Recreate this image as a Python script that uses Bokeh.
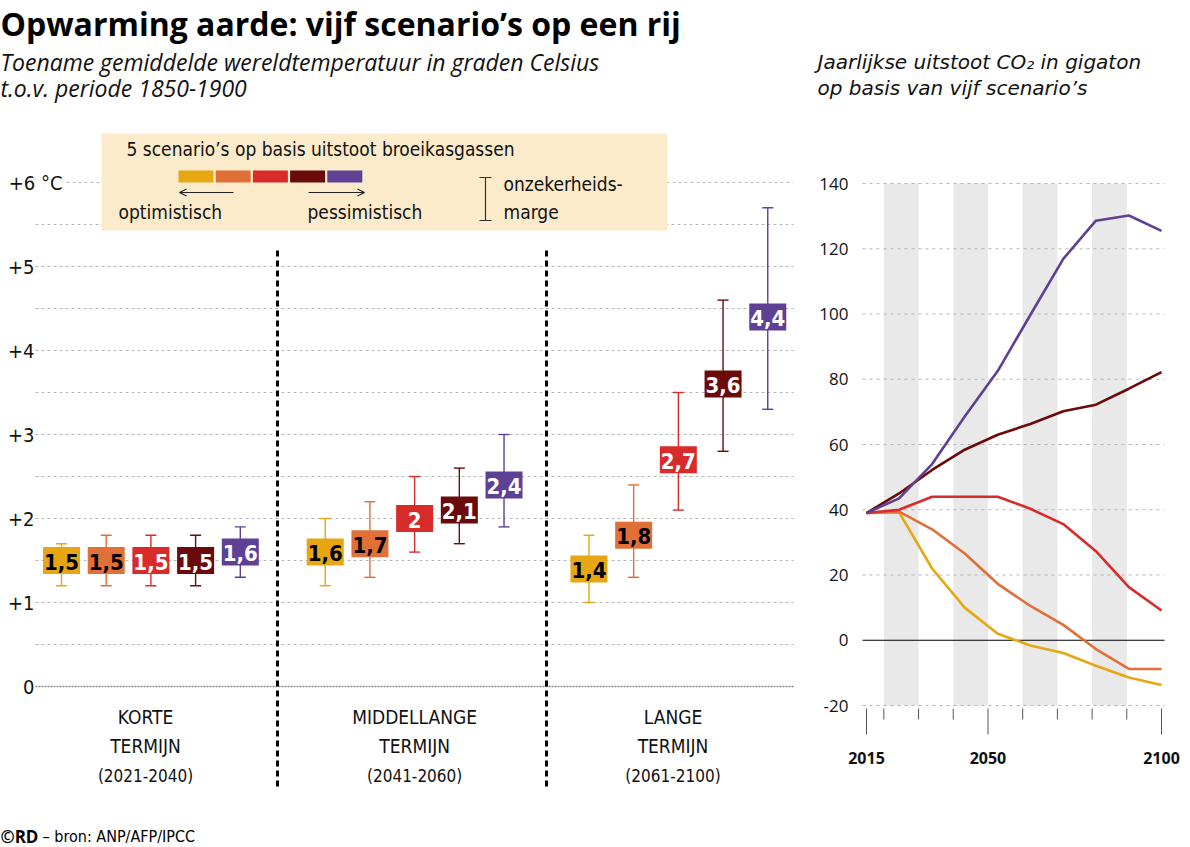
from bokeh.plotting import figure
from bokeh.models import Range1d, Arrow, OpenHead
from bokeh.core.properties import value
from bokeh.embed import file_html
from bokeh.resources import INLINE

# ---------------- data ----------------
scenarios = ["SSP1-1.9", "SSP1-2.6", "SSP2-4.5", "SSP3-7.0", "SSP5-8.5"]
colors = ["#E6A712", "#E07038", "#D92B2A", "#6B0A0A", "#5E4094"]
value_text_colors = ["black", "black", "white", "white", "white"]

period_names = ["KORTE", "MIDDELLANGE", "LANGE"]
period_word = ["TERMIJN", "TERMIJN", "TERMIJN"]
period_years = ["(2021-2040)", "(2041-2060)", "(2061-2100)"]

best_short = [1.5, 1.5, 1.5, 1.5, 1.6]
low_short = [1.2, 1.2, 1.2, 1.2, 1.3]
high_short = [1.7, 1.8, 1.8, 1.8, 1.9]

best_mid = [1.6, 1.7, 2.0, 2.1, 2.4]
low_mid = [1.2, 1.3, 1.6, 1.7, 1.9]
high_mid = [2.0, 2.2, 2.5, 2.6, 3.0]

best_long = [1.4, 1.8, 2.7, 3.6, 4.4]
low_long = [1.0, 1.3, 2.1, 2.8, 3.3]
high_long = [1.8, 2.4, 3.5, 4.6, 5.7]

temp_ticks = [6, 5, 4, 3, 2, 1, 0]
temp_tick_labels = ["+6 °C", "+5", "+4", "+3", "+2", "+1", "0"]

# CO2 panel: x positions of the drawn points (years)
co2_years = [2015, 2024.4, 2033.9, 2043.3, 2052.8, 2062.2, 2071.7, 2081.1, 2090.6, 2100]
co2_ssp119 = [39, 39.2, 22.0, 10.0, 2.0, -1.6, -3.9, -7.8, -11.4, -13.7]
co2_ssp126 = [39, 39.4, 34.0, 26.6, 17.3, 10.5, 4.7, -2.7, -8.8, -8.8]
co2_ssp245 = [39, 40.0, 44.0, 44.0, 44.0, 40.3, 35.6, 27.3, 16.3, 9.1]
co2_ssp370 = [39, 45.0, 52.2, 58.4, 63.0, 66.3, 70.2, 72.2, 77.1, 82.2]
co2_ssp585 = [39, 43.5, 54.0, 68.6, 82.5, 99.7, 116.9, 128.6, 130.2, 125.5]
co2_yticks = [-20, 0, 20, 40, 60, 80, 100, 120, 140]
co2_ytick_labels = ["-20", "0", "20", "40", "60", "80", "100", "120", "140"]
co2_major_years = [2015, 2050, 2100]
co2_major_labels = ["2015", "2050", "2100"]
co2_minor_years = [2020, 2030, 2040, 2060, 2070, 2080, 2090]
band_start = [2020, 2040, 2060, 2080]
band_end = [2030, 2050, 2070, 2090]

# ---------------- styling ----------------
COND = "DejaVu Sans Condensed, Liberation Sans Narrow, Roboto, sans-serif"
SANS = "Open Sans"
WIDE = "DejaVu Sans"
W, H = 1190, 847

# left panel geometry (pixels <-> data)
PXU, PYU, X0PX, Y0PX = 44.7, 84.0, 61.0, 686.0


def fx(px):
    return (px - X0PX) / PXU


def fy(py):
    return (Y0PX - py) / PYU


# right panel geometry (pixels <-> data)
RX_SCALE = 295 / 85.0
RY_SCALE = 522 / 160.0


def rx(px):
    return 2015 + (px - 866) / RX_SCALE


def ry(py):
    return -20 + (705 - py) / RY_SCALE


GROUP_STEP = 5.9

p = figure(width=W, height=H, x_range=Range1d(fx(0), fx(W)),
           y_range=Range1d(fy(H), fy(0)), output_backend="svg",
           toolbar_location=None, x_axis_location=None, y_axis_location=None,
           min_border=0)
p.extra_x_ranges = {"co2x": Range1d(rx(0), rx(W))}
p.extra_y_ranges = {"co2y": Range1d(ry(H), ry(0))}
p.outline_line_color = None
p.background_fill_color = "white"
p.xgrid.visible = False
p.ygrid.visible = False

# ================= LEFT: temperature =================
levels = [0.5 * k for k in range(1, 13)]
gx0 = [fx(66) if lv == 6 else fx(35) for lv in levels]
p.segment(x0=gx0, y0=levels, x1=[fx(793)] * len(levels), y1=levels,
          line_color="#b8b8b8", line_width=1, line_dash="3 3")
p.segment(x0=[fx(35)], y0=[0], x1=[fx(793)], y1=[0],
          line_color="#8a8a8a", line_width=1.3, line_dash="2 1")

p.text(x=[fx(62)], y=temp_ticks[:1], text=temp_tick_labels[:1],
       text_font=value(COND), text_font_size="20px", text_align="right",
       text_baseline="middle", text_color="#111")
p.text(x=[fx(34)] * 6, y=temp_ticks[1:], text=temp_tick_labels[1:],
       text_font=value(COND), text_font_size="20px", text_align="right",
       text_baseline="middle", text_color="#111")

# legend box
p.quad(left=[fx(101)], right=[fx(667)], top=[fy(133)], bottom=[fy(230)],
       fill_color="#FBEBCB", line_color=None)
p.text(x=[fx(126)], y=[fy(148)], text=["5 scenario’s op basis uitstoot broeikasgassen"],
       text_font=value(COND), text_font_size="19px", text_baseline="middle",
       text_color="#111")
sw_x = [fx(195.5 + 37.2 * i) for i in range(5)]
p.rect(x=sw_x, y=[fy(176)] * 5, width=35 / PXU, height=12 / PYU,
       fill_color=colors, line_color=None)
p.add_layout(Arrow(end=OpenHead(size=7, line_width=1.2, line_color="#222"),
                   x_start=fx(233), y_start=fy(192), x_end=fx(179), y_end=fy(192),
                   line_width=1.2, line_color="#222"))
p.add_layout(Arrow(end=OpenHead(size=7, line_width=1.2, line_color="#222"),
                   x_start=fx(308), y_start=fy(192), x_end=fx(364), y_end=fy(192),
                   line_width=1.2, line_color="#222"))
p.text(x=[fx(118), fx(307)], y=[fy(211)] * 2, text=["optimistisch", "pessimistisch"],
       text_font=value(COND), text_font_size="19px", text_baseline="middle",
       text_color="#111")
p.segment(x0=[fx(485), fx(479), fx(479)], y0=[fy(177), fy(177), fy(220)],
          x1=[fx(485), fx(491), fx(491)], y1=[fy(220), fy(177), fy(220)],
          line_color="#333", line_width=1.2)
p.text(x=[fx(503), fx(503)], y=[fy(183), fy(211)], text=["onzekerheids-", "marge"],
       text_font=value(COND), text_font_size="19px", text_baseline="middle",
       text_color="#111")

# separators
p.segment(x0=[fx(277), fx(546)], y0=[fy(250)] * 2, x1=[fx(277), fx(546)],
          y1=[fy(790)] * 2, line_color="black", line_width=3, line_dash="6 4")

# bars with uncertainty
xs, bs, los, his, cs, tc, labels = [], [], [], [], [], [], []
for g, (b, lo, hi) in enumerate([(best_short, low_short, high_short),
                                 (best_mid, low_mid, high_mid),
                                 (best_long, low_long, high_long)]):
    for s in range(len(scenarios)):
        xs.append(g * GROUP_STEP + s)
        bs.append(b[s])
        los.append(lo[s])
        his.append(hi[s])
        cs.append(colors[s])
        tc.append(value_text_colors[s])
        labels.append(f"{b[s]:g}".replace(".", ","))

cap = 5.5 / PXU
p.segment(x0=xs, y0=los, x1=xs, y1=his, line_color=cs, line_width=1.4)
p.segment(x0=[x - cap for x in xs], y0=los, x1=[x + cap for x in xs], y1=los,
          line_color=cs, line_width=1.4)
p.segment(x0=[x - cap for x in xs], y0=his, x1=[x + cap for x in xs], y1=his,
          line_color=cs, line_width=1.4)
p.rect(x=xs, y=bs, width=37 / PXU, height=27 / PYU, fill_color=cs, line_color=None)
p.text(x=xs, y=[v - 1.0 / PYU for v in bs], text=labels, text_color=tc,
       text_font=value(COND), text_font_style="bold", text_font_size="22px",
       text_align="center", text_baseline="middle")

# period labels
gc = [g * GROUP_STEP + 2 - 0.12 + (0.12 if g == 1 else 0) for g in range(3)]
p.text(x=gc, y=[fy(716)] * 3, text=period_names, text_font=value(COND),
       text_font_size="19px", text_align="center", text_baseline="middle",
       text_color="#111")
p.text(x=gc, y=[fy(745)] * 3, text=period_word, text_font=value(COND),
       text_font_size="19px", text_align="center", text_baseline="middle",
       text_color="#111")
p.text(x=gc, y=[fy(775)] * 3, text=period_years, text_font=value(COND),
       text_font_size="17px", text_align="center", text_baseline="middle",
       text_color="#111")

# titles
p.text(x=[fx(0)], y=[fy(22.5)], text=["Opwarming aarde: vijf scenario’s op een rij"],
       text_font=value(SANS), text_font_style="bold", text_font_size="32px",
       text_baseline="middle", text_color="black")
p.text(x=[fx(0)] * 2, y=[fy(61), fy(87)],
       text=["Toename gemiddelde wereldtemperatuur in graden Celsius",
             "t.o.v.  periode 1850-1900"],
       text_font=value(SANS), text_font_style="italic", text_font_size="23px",
       text_baseline="middle", text_color="#111")
p.text(x=[fx(0)], y=[fy(836)], text=["©RD"], text_font=value(SANS),
       text_font_style="bold", text_font_size="17px", text_baseline="middle",
       text_color="black")
p.text(x=[fx(42)], y=[fy(836)], text=["– bron: ANP/AFP/IPCC"], text_font=value(COND),
       text_font_size="16px", text_baseline="middle", text_color="black")

# ================= RIGHT: CO2 emissions =================
R = dict(x_range_name="co2x", y_range_name="co2y")
p.quad(left=band_start, right=band_end, bottom=[-20] * 4, top=[140] * 4,
       fill_color="#E9E9E9", line_color=None, **R)
grid_vals = [t for t in co2_yticks if t != 0]
p.segment(x0=[rx(862)] * len(grid_vals), y0=grid_vals, x1=[rx(1164)] * len(grid_vals),
          y1=grid_vals, line_color="#b5b5b5", line_width=1, line_dash="3 4", **R)
p.segment(x0=[rx(862)], y0=[0], x1=[rx(1164)], y1=[0], line_color="black",
          line_width=1.2, **R)

for ser, c in zip([co2_ssp119, co2_ssp126, co2_ssp245, co2_ssp370, co2_ssp585], colors):
    p.line(co2_years, ser, line_color=c, line_width=2.6, **R)

# x ticks
p.segment(x0=co2_major_years, y0=[ry(708)] * 3, x1=co2_major_years, y1=[ry(734)] * 3,
          line_color="#555", line_width=1, **R)
p.segment(x0=co2_minor_years, y0=[ry(708)] * 7, x1=co2_minor_years, y1=[ry(719)] * 7,
          line_color="#555", line_width=1, **R)
p.text(x=co2_major_years, y=[ry(757)] * 3, text=co2_major_labels,
       text_font=value(SANS), text_font_style="bold", text_font_size="16px",
       text_align="center", text_baseline="middle", text_color="#111", **R)
# y tick labels
p.text(x=[rx(848)] * len(co2_yticks), y=co2_yticks, text=co2_ytick_labels,
       text_font=value(SANS), text_font_size="17px", text_align="right",
       text_baseline="middle", text_color="#111", **R)

p.text(x=[rx(817)] * 2, y=[ry(61), ry(87)],
       text=["Jaarlijkse uitstoot CO₂ in gigaton", "op basis van vijf scenario’s"],
       text_font=value(WIDE), text_font_style="italic", text_font_size="20px",
       text_baseline="middle", text_color="#111", **R)

open("out.html", "w").write(file_html(p, INLINE))
